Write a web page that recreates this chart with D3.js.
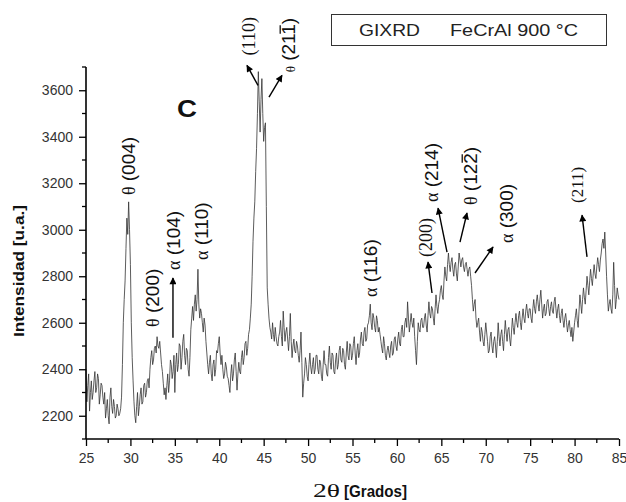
<!DOCTYPE html>
<html>
<head>
<meta charset="utf-8">
<script src="https://cdn.jsdelivr.net/npm/d3@7/dist/d3.min.js"></script>
<style>
  html, body { margin: 0; padding: 0; background: #fff; }
  svg { display: block; }
</style>
</head>
<body>
<svg id="chart" width="626" height="502"></svg>
<script>
// ---------- DATA ----------
const scanStart = 25;      // 2θ start (degrees)
const scanStep = 0.1;      // 2θ sampling step (degrees)
const intensity = [
  2400, 2260, 2330, 2380, 2220, 2300, 2350, 2270, 2300, 2350,
  2390, 2300, 2320, 2380, 2360, 2250, 2290, 2340, 2330, 2280,
  2250, 2300, 2190, 2230, 2270, 2200, 2165, 2280, 2320, 2240,
  2210, 2270, 2240, 2190, 2200, 2250, 2230, 2200, 2210, 2230,
  2280, 2420, 2600, 2700, 2780, 2920, 3050, 2980, 3120, 3000,
  2850, 2600, 2450, 2350, 2260, 2200, 2170, 2240, 2300, 2200,
  2240, 2290, 2320, 2250, 2260, 2330, 2340, 2280, 2300, 2350,
  2360, 2320, 2400, 2450, 2480, 2420, 2440, 2490, 2500, 2470,
  2540, 2500, 2490, 2520, 2470, 2420, 2390, 2340, 2290, 2320,
  2270, 2330, 2380, 2300, 2350, 2440, 2420, 2360, 2390, 2460,
  2300, 2420, 2470, 2390, 2420, 2510, 2500, 2400, 2450, 2520,
  2550, 2460, 2420, 2490, 2480, 2400, 2370, 2450, 2570, 2620,
  2670, 2610, 2680, 2720, 2650, 2700, 2830, 2680, 2620, 2660,
  2640, 2600, 2560, 2620, 2590, 2520, 2470, 2420, 2380, 2430,
  2460, 2380, 2350, 2420, 2440, 2370, 2400, 2480, 2470, 2510,
  2540, 2470, 2420, 2460, 2400, 2360, 2380, 2430, 2410, 2370,
  2360, 2330, 2300, 2380, 2420, 2350, 2380, 2440, 2470, 2390,
  2310, 2380, 2430, 2390, 2380, 2450, 2480, 2420, 2450, 2510,
  2520, 2460, 2490, 2550, 2570, 2620, 2680, 2800, 2950, 3050,
  3120, 3250, 3350, 3500, 3680, 3550, 3420, 3560, 3650, 3500,
  3380, 3440, 3460, 3100, 2750, 2680, 2620, 2580, 2560, 2530,
  2600, 2550, 2520, 2580, 2540, 2510, 2500, 2540, 2560, 2610,
  2540, 2500, 2650, 2580, 2520, 2560, 2580, 2530, 2480, 2540,
  2640, 2520, 2450, 2500, 2530, 2480, 2470, 2520, 2500, 2460,
  2430, 2480, 2560, 2430, 2280, 2340, 2380, 2450, 2420, 2370,
  2350, 2420, 2470, 2410, 2380, 2420, 2450, 2380, 2400, 2460,
  2460, 2400, 2380, 2440, 2430, 2370, 2350, 2420, 2480, 2420,
  2420, 2380, 2370, 2450, 2500, 2430, 2400, 2470, 2460, 2390,
  2380, 2440, 2470, 2400, 2420, 2480, 2500, 2440, 2430, 2490,
  2480, 2420, 2400, 2470, 2520, 2460, 2440, 2510, 2500, 2440,
  2460, 2510, 2540, 2470, 2420, 2480, 2510, 2450, 2470, 2530,
  2560, 2510, 2500, 2560, 2580, 2520, 2530, 2590, 2600, 2630,
  2680, 2600, 2570, 2640, 2620, 2580, 2560, 2630, 2610, 2560,
  2580, 2550, 2520, 2490, 2470, 2540, 2510, 2460, 2440, 2480,
  2500, 2470, 2450, 2500, 2520, 2460, 2470, 2530, 2540, 2500,
  2480, 2530, 2560, 2510, 2500, 2570, 2590, 2540, 2540, 2600,
  2620, 2580, 2690, 2620, 2560, 2600, 2640, 2600, 2580, 2620,
  2540, 2480, 2420, 2520, 2600, 2570, 2560, 2610, 2620, 2580,
  2580, 2620, 2640, 2590, 2560, 2630, 2690, 2640, 2620, 2670,
  2660, 2620, 2590, 2660, 2720, 2670, 2640, 2680, 2700, 2740,
  2760, 2720, 2700, 2780, 2840, 2800, 2780, 2850, 2900, 2850,
  2820, 2860, 2880, 2830, 2800, 2850, 2860, 2810, 2780, 2840,
  2900, 2870, 2840, 2870, 2880, 2840, 2820, 2850, 2860, 2830,
  2800, 2830, 2840, 2800, 2760, 2700, 2650, 2680, 2700, 2620,
  2580, 2600, 2620, 2560, 2520, 2580, 2560, 2520, 2500, 2550,
  2600, 2560, 2520, 2470, 2480, 2540, 2560, 2500, 2470, 2520,
  2540, 2500, 2450, 2520, 2600, 2540, 2500, 2550, 2570, 2520,
  2480, 2550, 2610, 2560, 2520, 2570, 2580, 2530, 2500, 2560,
  2620, 2580, 2550, 2600, 2640, 2600, 2580, 2630, 2650, 2600,
  2570, 2620, 2660, 2620, 2600, 2650, 2680, 2640, 2620, 2660,
  2660, 2620, 2600, 2660, 2700, 2660, 2640, 2690, 2720, 2680,
  2650, 2700, 2740, 2680, 2620, 2660, 2680, 2630, 2640, 2690,
  2700, 2660, 2630, 2670, 2690, 2650, 2640, 2690, 2710, 2660,
  2620, 2660, 2680, 2630, 2600, 2640, 2660, 2610, 2580, 2620,
  2640, 2600, 2560, 2590, 2610, 2570, 2540, 2580, 2520, 2560,
  2600, 2630, 2660, 2610, 2580, 2650, 2720, 2680, 2640, 2700,
  2750, 2710, 2680, 2740, 2800, 2760, 2720, 2780, 2830, 2790,
  2760, 2810, 2850, 2810, 2790, 2840, 2880, 2850, 2820, 2870,
  2900, 2940, 2960, 2920, 2990, 2900, 2800, 2720, 2650, 2680,
  2700, 2660, 2640, 2720, 2860, 2760, 2660, 2700, 2750, 2720,
  2700
];
const xTicks = [25, 30, 35, 40, 45, 50, 55, 60, 65, 70, 75, 80, 85];
const yTicks = [2200, 2400, 2600, 2800, 3000, 3200, 3400, 3600];
const xDomain = [25, 85];
const yDomain = [2100, 3700];

// peak labels: greek prefix, hkl text, index of char (in hkl) with overline, serif?, anchor (2θ, I)
const peakLabels = [
  { g: "θ", hkl: " (004)", bar: -1, serif: false, x: 30.52, y: 3149 },
  { g: "θ", hkl: " (200)", bar: -1, serif: false, x: 33.22, y: 2582 },
  { g: "α", hkl: " (104)", bar: -1, serif: false, x: 35.58, y: 2827 },
  { g: "α", hkl: " (110)", bar: -1, serif: false, x: 38.73, y: 2870 },
  { g: "",  hkl: "(110)",  bar: -1, serif: true,  x: 44.02, y: 3750 },
  { g: "θ", hkl: " (211)", bar: 4,  serif: false, x: 48.53, y: 3677, small: true },
  { g: "α", hkl: " (116)", bar: -1, serif: false, x: 57.76, y: 2711 },
  { g: "",  hkl: "(200)",  bar: -1, serif: true,  x: 63.95, y: 2883 },
  { g: "α", hkl: " (214)", bar: -1, serif: false, x: 64.63, y: 3119 },
  { g: "θ", hkl: " (122)", bar: 4,  serif: false, x: 69.02, y: 3106 },
  { g: "α", hkl: " (300)", bar: -1, serif: false, x: 73.07, y: 2943 },
  { g: "",  hkl: "(211)",  bar: -1, serif: true,  x: 80.95, y: 3115, fs: 17 }
];
// arrows: tail (x1,y1) -> tip (x2,y2) in data units
const arrows = [
  { x1: 44.36, y1: 3621, x2: 43.12, y2: 3707 },
  { x1: 45.60, y1: 3570, x2: 47.06, y2: 3664 },
  { x1: 34.79, y1: 2535, x2: 34.79, y2: 2793 },
  { x1: 63.95, y1: 2728, x2: 63.50, y2: 2861 },
  { x1: 65.64, y1: 2904, x2: 64.63, y2: 3093 },
  { x1: 67.10, y1: 2947, x2: 67.89, y2: 3072 },
  { x1: 68.79, y1: 2814, x2: 70.82, y2: 2926 },
  { x1: 81.40, y1: 2883, x2: 80.84, y2: 3063 }
];

// ---------- CHART ----------
const SANS = "'Liberation Sans', Arial, Helvetica, sans-serif";
const SERIF = "'Liberation Serif', 'Times New Roman', serif";
const svg = d3.select("#chart");
const plot = { left: 86, right: 619, top: 67, bottom: 439 };

const x = d3.scaleLinear().domain(xDomain).range([plot.left, plot.right]);
const y = d3.scaleLinear().domain(yDomain).range([plot.bottom, plot.top]);

const twoTheta = intensity.map((_, i) => scanStart + i * scanStep);

// data line
svg.append("path")
  .datum(intensity)
  .attr("fill", "none")
  .attr("stroke", "#333")
  .attr("stroke-width", 0.8)
  .attr("stroke-linejoin", "round")
  .attr("d", d3.line().x((d, i) => x(twoTheta[i])).y(d => y(d)));

// axes
const xMinor = d3.range(xDomain[0], xDomain[1] + 0.001, 2.5).filter(v => v % 5 !== 0);
const yMinor = d3.range(2100, 3700.1, 100).filter(v => v % 200 !== 0);

const gx = svg.append("g").attr("transform", `translate(0,${plot.bottom})`);
gx.call(d3.axisBottom(x).tickValues(xTicks).tickSize(7).tickPadding(7).tickFormat(d3.format("d")));
gx.append("g").selectAll("line").data(xMinor).join("line")
  .attr("x1", d => x(d)).attr("x2", d => x(d)).attr("y1", 0).attr("y2", 4)
  .attr("stroke", "#000").attr("stroke-width", 1.3);

const gy = svg.append("g").attr("transform", `translate(${plot.left},0)`);
gy.call(d3.axisLeft(y).tickValues(yTicks).tickSize(7).tickPadding(6).tickFormat(d3.format("d")));
gy.append("g").selectAll("line").data(yMinor).join("line")
  .attr("y1", d => y(d)).attr("y2", d => y(d)).attr("x1", 0).attr("x2", -4)
  .attr("stroke", "#000").attr("stroke-width", 1.3);

[gx, gy].forEach(g => {
  g.select(".domain").attr("stroke", "#000").attr("stroke-width", 1.6);
  g.selectAll(".tick line").attr("stroke", "#000").attr("stroke-width", 1.3);
  g.selectAll(".tick text").attr("font-family", SANS).attr("font-size", 14).attr("fill", "#333");
});
gx.select(".domain").attr("d", `M${plot.left},0H${plot.right}`);
gy.select(".domain").attr("d", `M0,${plot.bottom}V${plot.top}`);

// axis titles
svg.append("text")
  .attr("transform", `translate(24,${(205 + 337) / 2}) rotate(-90)`)
  .attr("text-anchor", "middle")
  .attr("font-family", SANS).attr("font-weight", "bold").attr("font-size", 15)
  .attr("fill", "#111")
  .attr("textLength", 132).attr("lengthAdjust", "spacingAndGlyphs")
  .text("Intensidad [u.a.]");

const xt = svg.append("text").attr("y", 497).attr("fill", "#111");
xt.append("tspan").attr("x", 313).attr("font-family", SERIF).attr("font-size", 18)
  .attr("textLength", 27).attr("lengthAdjust", "spacingAndGlyphs").text("2θ");
xt.append("tspan").attr("x", 344).attr("font-family", SANS).attr("font-weight", "bold").attr("font-size", 16)
  .attr("textLength", 63).attr("lengthAdjust", "spacingAndGlyphs").text("[Grados]");

// panel letter
svg.append("text").attr("x", 177).attr("y", 117)
  .attr("font-family", SANS).attr("font-weight", "bold").attr("font-size", 23)
  .attr("textLength", 20).attr("lengthAdjust", "spacingAndGlyphs")
  .attr("fill", "#111").text("C");

// legend box
svg.append("rect").attr("x", 331.5).attr("y", 14.5).attr("width", 275).attr("height", 31)
  .attr("fill", "#fff").attr("stroke", "#333").attr("stroke-width", 1);
svg.append("text").attr("x", 359).attr("y", 36)
  .attr("font-family", SANS).attr("font-size", 17).attr("fill", "#222")
  .attr("textLength", 61).attr("lengthAdjust", "spacingAndGlyphs").text("GIXRD");
svg.append("text").attr("x", 450).attr("y", 36)
  .attr("font-family", SANS).attr("font-size", 17).attr("fill", "#222")
  .attr("textLength", 128).attr("lengthAdjust", "spacingAndGlyphs").text("FeCrAl 900 °C");

// arrow marker
svg.append("defs").append("marker")
  .attr("id", "ah").attr("viewBox", "0 0 10 10").attr("refX", 9).attr("refY", 5)
  .attr("markerWidth", 8).attr("markerHeight", 7).attr("markerUnits", "userSpaceOnUse")
  .attr("orient", "auto")
  .append("path").attr("d", "M0,0L10,5L0,10Z").attr("fill", "#000");

svg.append("g").selectAll("line").data(arrows).join("line")
  .attr("x1", d => x(d.x1)).attr("y1", d => y(d.y1))
  .attr("x2", d => x(d.x2)).attr("y2", d => y(d.y2))
  .attr("stroke", "#000").attr("stroke-width", 1.4)
  .attr("marker-end", "url(#ah)");

// peak labels (rotated)
peakLabels.forEach(L => {
  const fs = L.fs || (L.serif ? 18 : 19);
  const g = svg.append("g").attr("transform", `translate(${x(L.x)},${y(L.y)}) rotate(-90)`);
  const t = g.append("text").attr("x", 0).attr("y", 0).attr("fill", "#111")
    .attr("font-family", L.serif ? SERIF : SANS).attr("font-size", fs);
  if (L.g) {
    t.append("tspan").attr("font-family", SERIF).attr("font-size", L.small ? 13 : fs - 1).text(L.g);
  }
  t.append("tspan").text(L.hkl);
  if (L.bar >= 0) {
    const idx = (L.g ? L.g.length : 0) + L.bar;
    const node = t.node();
    const s = node.getStartPositionOfChar(idx);
    const e = node.getEndPositionOfChar(idx);
    g.append("line").attr("x1", s.x + 1).attr("x2", e.x - 1)
      .attr("y1", -fs * 0.78).attr("y2", -fs * 0.78)
      .attr("stroke", "#111").attr("stroke-width", 1.3);
  }
});
</script>
</body>
</html>
